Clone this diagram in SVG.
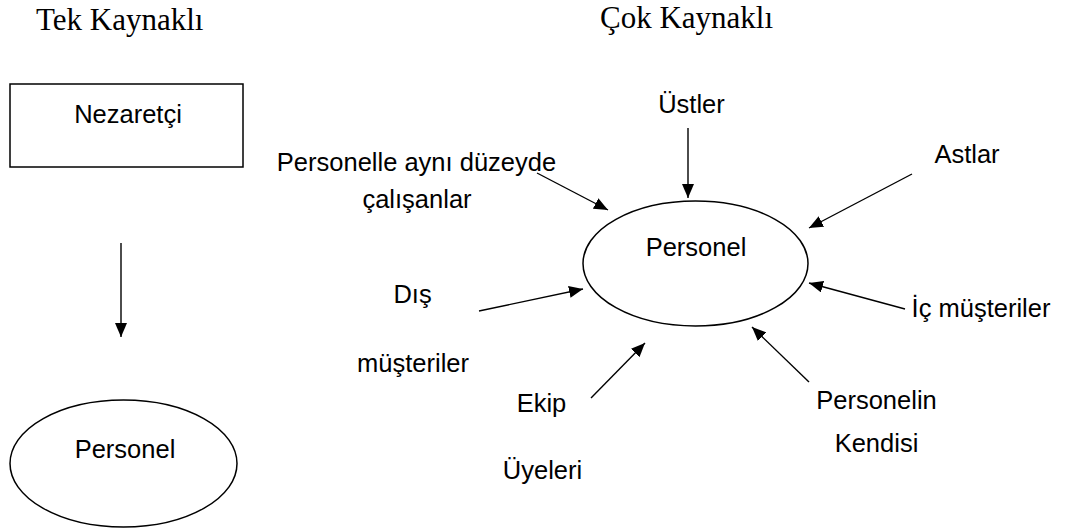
<svg xmlns="http://www.w3.org/2000/svg" width="1066" height="531" viewBox="0 0 1066 531">
<style>
.title{font-family:"Liberation Serif","Times New Roman",serif;font-size:31px;fill:#000}
.lbl{font-family:"Liberation Sans",Arial,sans-serif;font-size:25.5px;fill:#000;text-anchor:middle}
.shape{fill:#fff;stroke:#000;stroke-width:1.5}
.conn{stroke:#000;stroke-width:1.4;fill:none;marker-end:url(#ah)}
</style>
<defs>
<marker id="ah" viewBox="0 0 14 12" refX="14" refY="6" markerWidth="14" markerHeight="12" markerUnits="userSpaceOnUse" orient="auto">
<path d="M0,0 L14,6 L0,12 z" fill="#000"/>
</marker>
</defs>
<rect width="1066" height="531" fill="#fff"/>
<text class="title" x="36" y="30">Tek Kaynaklı</text>
<text class="title" x="600" y="28">Çok Kaynaklı</text>
<g id="nezaretci">
<rect class="shape" x="10" y="84" width="233" height="83"/>
<text class="lbl" x="128" y="123">Nezaretçi</text>
</g>
<g id="personel-tek">
<ellipse class="shape" cx="123.5" cy="463.5" rx="113.5" ry="63.5"/>
<text class="lbl" x="125" y="458">Personel</text>
</g>
<g id="personel-cok">
<ellipse class="shape" cx="695.5" cy="263.5" rx="112.5" ry="62.5"/>
<text class="lbl" x="696" y="256">Personel</text>
</g>
<g id="ustler"><text class="lbl" x="691.5" y="113">Üstler</text></g>
<g id="astlar"><text class="lbl" x="967" y="163">Astlar</text></g>
<g id="ayni-duzey">
<text class="lbl" x="416.5" y="171">Personelle aynı düzeyde</text>
<text class="lbl" x="417" y="208">çalışanlar</text>
</g>
<g id="dis-musteriler">
<text class="lbl" x="412.5" y="303">Dış</text>
<text class="lbl" x="413" y="372">müşteriler</text>
</g>
<g id="ekip-uyeleri">
<text class="lbl" x="541.5" y="412">Ekip</text>
<text class="lbl" x="542.5" y="479">Üyeleri</text>
</g>
<g id="personelin-kendisi">
<text class="lbl" x="876.5" y="409">Personelin</text>
<text class="lbl" x="876.5" y="452">Kendisi</text>
</g>
<g id="ic-musteriler"><text class="lbl" x="981" y="317">İç müşteriler</text></g>
<g id="connectors">
<line class="conn" x1="121" y1="243" x2="121" y2="337"/>
<line class="conn" x1="688" y1="128" x2="688" y2="198"/>
<line class="conn" x1="537" y1="173" x2="608" y2="210"/>
<line class="conn" x1="912" y1="174" x2="809" y2="228"/>
<line class="conn" x1="905" y1="309" x2="809" y2="283"/>
<line class="conn" x1="809" y1="382" x2="752" y2="327"/>
<line class="conn" x1="591" y1="398" x2="645" y2="343"/>
<line class="conn" x1="479" y1="311" x2="583" y2="289"/>
</g>
</svg>
